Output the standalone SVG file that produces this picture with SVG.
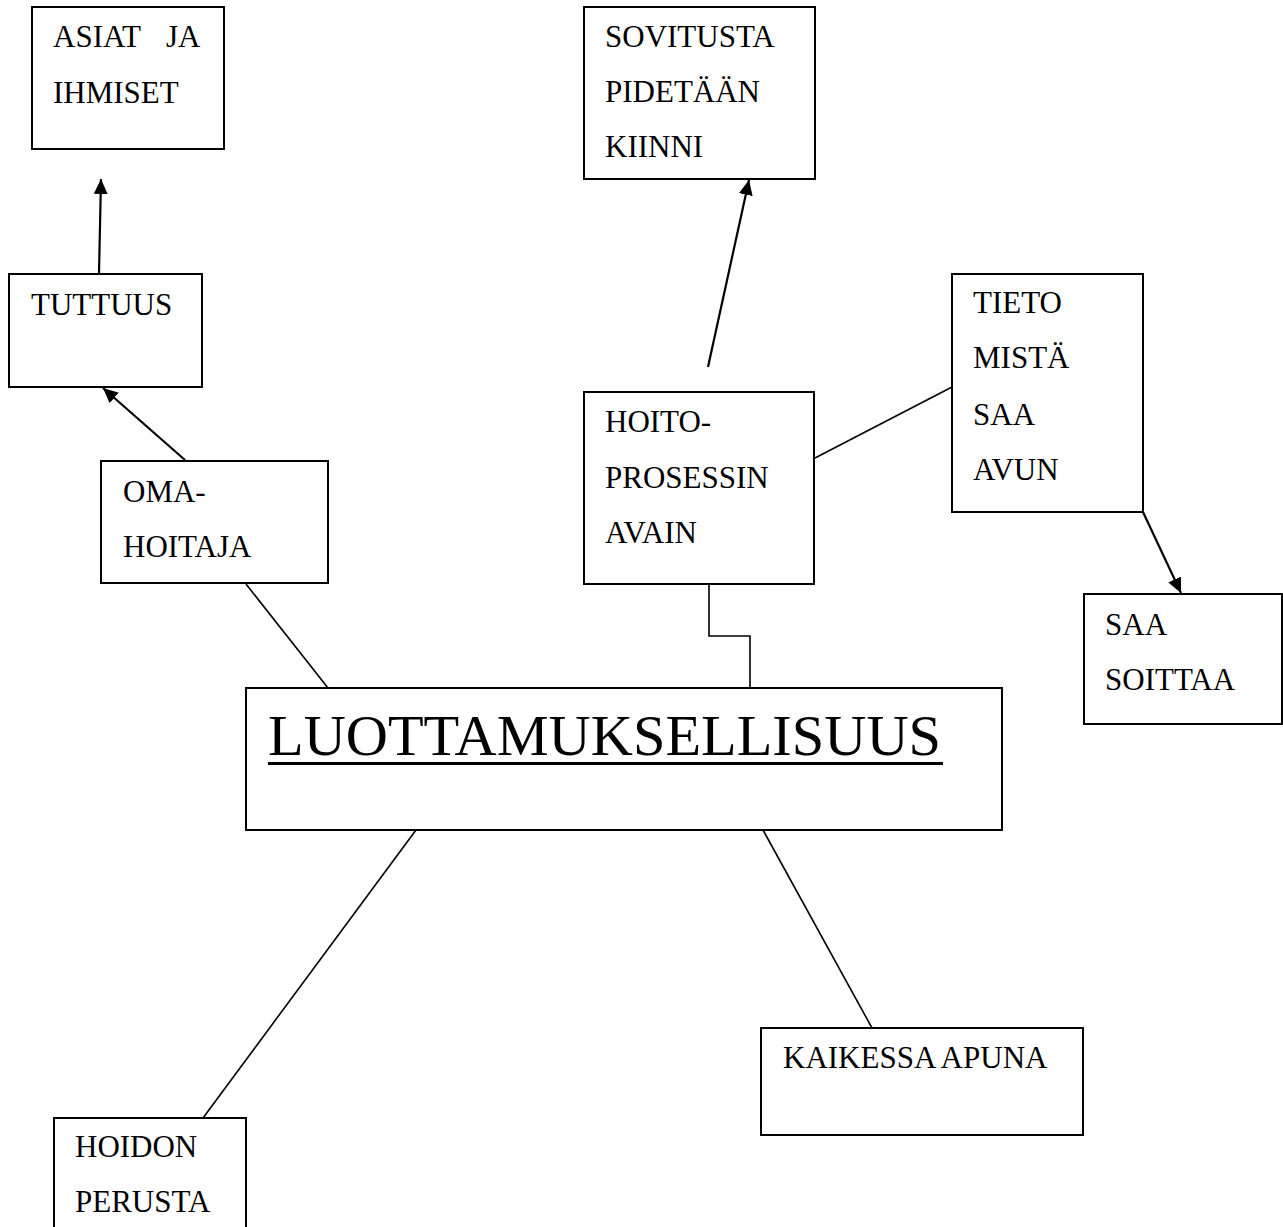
<svg xmlns="http://www.w3.org/2000/svg" width="1283" height="1227" viewBox="0 0 1283 1227">
  <style>
    .box { fill: #ffffff; stroke: #000000; stroke-width: 2; }
    .lbl { font-family: "Liberation Serif", "Times New Roman", serif; font-size: 31px; fill: #000000; }
    .big { font-family: "Liberation Serif", "Times New Roman", serif; font-size: 58px; fill: #000000; }
    .con { fill: none; stroke: #000000; stroke-width: 1.6; }
    .arr { fill: none; stroke: #000000; stroke-width: 2.2; marker-end: url(#ah); }
  </style>
  <defs>
    <marker id="ah" markerUnits="userSpaceOnUse" markerWidth="16" markerHeight="14" refX="15" refY="7" orient="auto">
      <path d="M0,0 L15,7 L0,14 z" fill="#000000"/>
    </marker>
  </defs>
  <rect width="1283" height="1227" fill="#ffffff"/>

  <g id="connectors">
    <line class="arr" x1="185" y1="460" x2="103" y2="388"/>
    <line class="arr" x1="99" y1="273" x2="101" y2="179"/>
    <line class="arr" x1="708" y1="367" x2="749" y2="180"/>
    <line class="arr" x1="1143" y1="512" x2="1181" y2="593"/>
    <line class="con" x1="246" y1="584" x2="328" y2="688"/>
    <polyline class="con" points="709,584 709,636 750,636 750,688"/>
    <line class="con" x1="815" y1="458" x2="952" y2="387"/>
    <line class="con" x1="416" y1="830" x2="203" y2="1118"/>
    <line class="con" x1="763" y1="830" x2="872" y2="1028"/>
  </g>

  <g id="node-asiat">
    <rect class="box" x="32" y="7" width="192" height="142"/>
    <text class="lbl" x="53" y="47">ASIAT<tspan x="166">JA</tspan></text>
    <text class="lbl" x="53" y="103">IHMISET</text>
  </g>

  <g id="node-sovitusta">
    <rect class="box" x="584" y="7" width="231" height="172"/>
    <text class="lbl" x="605" y="47">SOVITUSTA</text>
    <text class="lbl" x="605" y="102">PIDETÄÄN</text>
    <text class="lbl" x="605" y="157">KIINNI</text>
  </g>

  <g id="node-tuttuus">
    <rect class="box" x="9" y="274" width="193" height="113"/>
    <text class="lbl" x="31" y="315">TUTTUUS</text>
  </g>

  <g id="node-omahoitaja">
    <rect class="box" x="101" y="461" width="227" height="122"/>
    <text class="lbl" x="123" y="502">OMA-</text>
    <text class="lbl" x="123" y="557">HOITAJA</text>
  </g>

  <g id="node-hoitoprosessin">
    <rect class="box" x="584" y="392" width="230" height="192"/>
    <text class="lbl" x="605" y="432">HOITO-</text>
    <text class="lbl" x="605" y="488">PROSESSIN</text>
    <text class="lbl" x="605" y="543">AVAIN</text>
  </g>

  <g id="node-tieto">
    <rect class="box" x="952" y="274" width="191" height="238"/>
    <text class="lbl" x="973" y="313">TIETO</text>
    <text class="lbl" x="973" y="368">MISTÄ</text>
    <text class="lbl" x="973" y="425">SAA</text>
    <text class="lbl" x="973" y="480">AVUN</text>
  </g>

  <g id="node-saasoittaa">
    <rect class="box" x="1084" y="594" width="198" height="130"/>
    <text class="lbl" x="1105" y="635">SAA</text>
    <text class="lbl" x="1105" y="690">SOITTAA</text>
  </g>

  <g id="node-luottamuksellisuus">
    <rect class="box" x="246" y="688" width="756" height="142"/>
    <text class="big" x="268" y="755" textLength="673" lengthAdjust="spacingAndGlyphs">LUOTTAMUKSELLISUUS</text>
    <rect x="268" y="762" width="675" height="3" fill="#000000"/>
  </g>

  <g id="node-hoidon">
    <rect class="box" x="54" y="1118" width="192" height="120"/>
    <text class="lbl" x="75" y="1157">HOIDON</text>
    <text class="lbl" x="75" y="1212">PERUSTA</text>
  </g>

  <g id="node-kaikessa">
    <rect class="box" x="761" y="1028" width="322" height="107"/>
    <text class="lbl" x="783" y="1068">KAIKESSA APUNA</text>
  </g>
</svg>
